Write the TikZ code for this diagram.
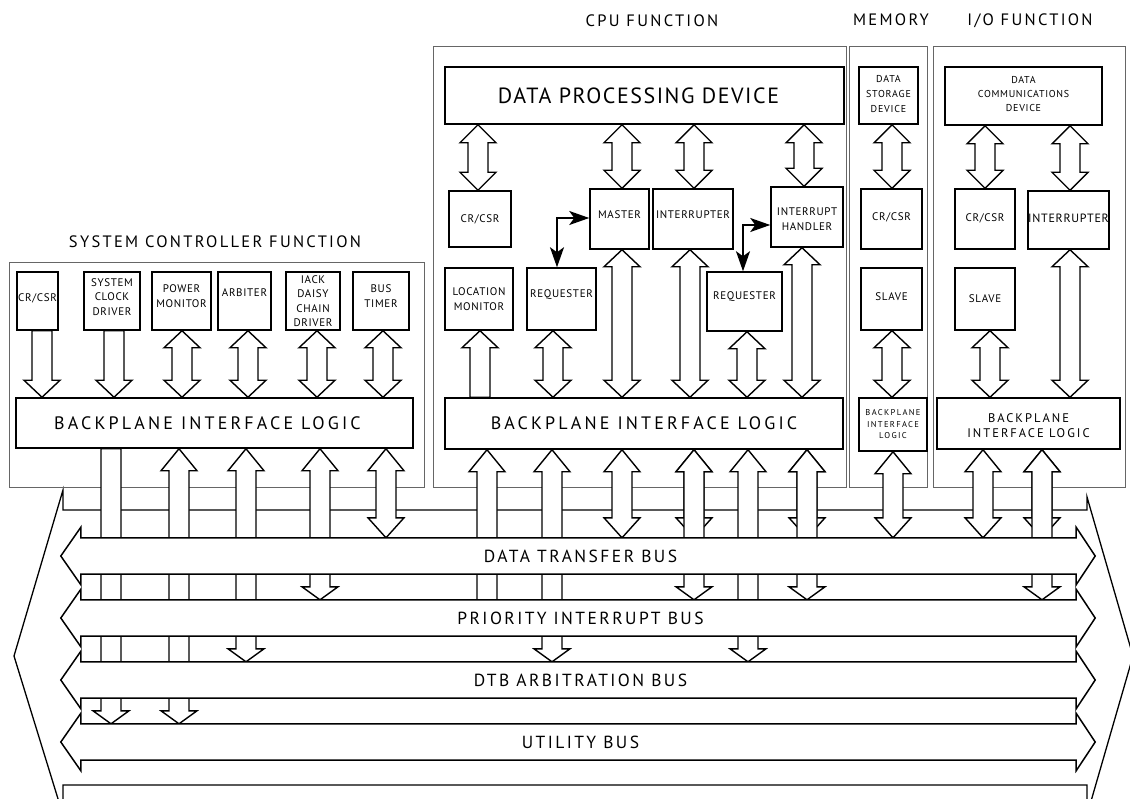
\documentclass[tikz,border=0pt]{standalone}
\usepackage{fontspec}
\setmainfont{PT Sans}
\usetikzlibrary{arrows.meta,calc}
\newcommand\ftx[3]{\fontsize{#1}{#2}\selectfont\addfontfeatures{LetterSpace=#3}}
% box: [label options]{name}{x1}{y1}{x2}{y2}{text}
\newcommand\mybox[7][]{%
  \node[box,minimum width={#5-#3},minimum height={#6-#4}] (#2) at ({(#3+#5)/2},{(#4+#6)/2}) {};
  \node[lbl,#1] (#2-t) at (#2.center) {#7};}
\newcommand\mypanel[5]{%
  \node[panel,minimum width={#4-#2},minimum height={#5-#3}] (#1) at ({(#2+#4)/2},{(#3+#5)/2}) {};}
% vertical block arrow: x, top anchor, bottom anchor, top head length, bottom head length (0 = flat)
\newcommand\BA[5]{%
  \pgfmathsetmacro\fwT{ifthenelse(#4>0,18,10)}%
  \pgfmathsetmacro\fwB{ifthenelse(#5>0,18,10)}%
  \draw[blk] let \p1=(#2), \p2=(#3) in
    (#1pt,\y1) -- ({#1pt+\fwT pt},{\y1-#4pt}) -- ({#1pt+10pt},{\y1-#4pt})
    -- ({#1pt+10pt},{\y2+#5pt}) -- ({#1pt+\fwB pt},{\y2+#5pt}) -- (#1pt,\y2)
    -- ({#1pt-\fwB pt},{\y2+#5pt}) -- ({#1pt-10pt},{\y2+#5pt})
    -- ({#1pt-10pt},{\y1-#4pt}) -- ({#1pt-\fwT pt},{\y1-#4pt}) -- cycle;}
\newcommand\busnode[2]{\path (578.5,#2) node[minimum width=995pt,minimum height=36pt,inner sep=0pt] (#1) {};}
\newcommand\busdraw[2]{%
  \draw[busline] (#1.north west) -- (#1.north east) -- ([yshift=10.5pt]#1.north east)
    -- ([xshift=19pt]#1.east) -- ([yshift=-10.5pt]#1.south east) -- (#1.south east)
    -- (#1.south west) -- ([yshift=-10.5pt]#1.south west) -- ([xshift=-20pt]#1.west)
    -- ([yshift=10.5pt]#1.north west) -- cycle;
  \node[bustext] (#1-t) at ([xshift=2pt]#1.center) {#2};}
\begin{document}
\begin{tikzpicture}[x=1pt,y=-1pt,
  panel/.style={draw=black!60,line width=0.9pt,inner sep=0pt},
  box/.style={draw,line width=1.5pt,fill=white,inner sep=0pt},
  lbl/.style={align=center,inner sep=0pt,font=\ftx{11}{14.5}{6}},
  blk/.style={draw,line width=1.4pt,fill=white,line join=miter},
  busline/.style={draw,line width=1.5pt,fill=white,line join=miter},
  bustext/.style={inner sep=0pt,font=\ftx{17.5}{20}{14}},
  title/.style={inner sep=0pt,font=\ftx{16.5}{19}{14}},
  tarrow/.style={line width=1.8pt,{Stealth[length=20pt,width=14pt,inset=5pt]}-{Stealth[length=20pt,width=14pt,inset=5pt]}}]
\useasboundingbox (0,0) rectangle (1130,798);
% outer backplane arrow
\draw[blk,line width=1.3pt] (63,490) -- (63,510) -- (1087,510) -- (1087,497) -- (1133,656)
  -- (1087,815) -- (1087,785) -- (63,785) -- (63,815) -- (14,656) -- cycle;
% panels and titles
\mypanel{scp}{9}{262}{424}{487}
\mypanel{cpup}{433}{46}{846}{487}
\mypanel{memp}{849}{46}{927}{487}
\mypanel{iop}{933}{46}{1125}{487}
\node[title] (sct) at (215,242) {SYSTEM CONTROLLER FUNCTION};
\node[title] (cput) at (652,21) {CPU FUNCTION};
\node[title] (memt) at (891,20) {MEMORY};
\node[title] (iot) at (1030,21) {I/O FUNCTION};
% system controller
\mybox[yshift=3pt]{sccr}{17}{272}{58}{330}{CR/CSR}
\mybox[yshift=4pt]{scclk}{84}{272}{140}{330}{SYSTEM\\CLOCK\\DRIVER}
\mybox[yshift=5pt]{scpm}{152}{272}{211}{330}{POWER\\MONITOR}
\mybox[yshift=8pt]{scarb}{218}{272}{271}{330}{ARBITER}
\mybox{sciack}{286}{272}{340}{330}{IACK\\DAISY\\CHAIN\\DRIVER}
\mybox[yshift=5pt]{scbt}{353}{272}{409}{330}{BUS\\TIMER}
\mybox[font=\ftx{18}{20}{17.5},xshift=-7pt]{scbil}{16}{398}{413}{448}{BACKPLANE INTERFACE LOGIC}
% cpu
\mybox[font=\ftx{22}{26}{7},xshift=-6pt]{dpd}{445}{67}{844}{124}{DATA PROCESSING DEVICE}
\mybox{ccr}{449}{191}{511}{247}{CR/CSR}
\mybox[yshift=4pt]{master}{590}{189}{649}{249}{MASTER}
\mybox[yshift=4pt]{cint}{653}{189}{733}{249}{INTERRUPTER}
\mybox[yshift=-2pt]{ih}{771}{187}{843}{247}{INTERRUPT\\HANDLER}
\mybox{lm}{445}{268}{513}{330}{LOCATION\\MONITOR}
\mybox[yshift=4pt]{req1}{527}{268}{596}{330}{REQUESTER}
\mybox[yshift=5pt]{req2}{707}{272}{782}{331}{REQUESTER}
\mybox[font=\ftx{18}{20}{17.5}]{cbil}{445}{398}{843}{449}{BACKPLANE INTERFACE LOGIC}
% memory
\mybox[yshift=1pt,font=\ftx{10}{15}{8}]{dsd}{859}{67}{918}{124}{DATA\\STORAGE\\DEVICE}
\mybox[yshift=2pt]{mcr}{861}{189}{922}{249}{CR/CSR}
\mybox[yshift=2pt]{mslave}{861}{268}{922}{330}{SLAVE}
\mybox[font=\ftx{8.5}{11.5}{16}]{mbil}{859}{398}{927}{451}{BACKPLANE\\INTERFACE\\LOGIC}
% i/o
\mybox[yshift=2pt,font=\ftx{10}{14}{7}]{dcd}{945}{67}{1102}{125}{DATA\\COMMUNICATIONS\\DEVICE}
\mybox[yshift=1pt]{iocr}{955}{189}{1015}{249}{CR/CSR}
\mybox[yshift=2pt,font=\ftx{12}{14}{6}]{ioint}{1028}{191}{1109}{249}{INTERRUPTER}
\mybox{ioslave}{955}{268}{1015}{330}{SLAVE}
\mybox[yshift=-2pt,font=\ftx{12.5}{15}{16}]{iobil}{937}{398}{1120}{449}{BACKPLANE\\INTERFACE LOGIC}
% bus placeholders
\busnode{dtb}{556}
\busnode{pi}{618}
\busnode{arb}{680}
\busnode{util}{742}
% system controller block arrows
\BA{42}{sccr.south}{scbil.north}{0}{17}
\BA{114}{scclk.south}{scbil.north}{0}{17}
\BA{182}{scpm.south}{scbil.north}{17}{17}
\BA{248}{scarb.south}{scbil.north}{17}{17}
\BA{317}{sciack.south}{scbil.north}{17}{17}
\BA{383}{scbt.south}{scbil.north}{17}{17}
\BA{111}{scbil.south}{util.north}{0}{13}
\BA{179}{scbil.south}{util.north}{22}{13}
\BA{246}{scbil.south}{arb.north}{22}{13}
\BA{320}{scbil.south}{pi.north}{22}{13}
\BA{386}{scbil.south}{dtb.north}{22}{20}
% cpu block arrows
\BA{478}{dpd.south}{ccr.north}{18}{18}
\BA{622}{dpd.south}{master.north}{18}{18}
\BA{694}{dpd.south}{cint.north}{18}{18}
\BA{804}{dpd.south}{ih.north}{18}{18}
\BA{480}{lm.south}{cbil.north}{17}{0}
\BA{553}{req1.south}{cbil.north}{17}{17}
\BA{622}{master.south}{cbil.north}{17}{17}
\BA{690}{cint.south}{cbil.north}{17}{17}
\BA{747}{req2.south}{cbil.north}{17}{17}
\BA{802}{ih.south}{cbil.north}{17}{17}
\BA{487}{cbil.south}{pi.center}{22}{0}
\BA{552}{cbil.south}{arb.north}{22}{13}
\BA{622}{cbil.south}{dtb.north}{22}{20}
\BA{694}{cbil.south}{dtb.north}{22}{20}
\BA{694}{cbil.south}{pi.north}{22}{13}
\BA{748}{cbil.south}{arb.north}{22}{13}
\BA{807}{cbil.south}{dtb.north}{22}{20}
\BA{807}{cbil.south}{pi.north}{22}{13}
% memory block arrows
\BA{892}{dsd.south}{mcr.north}{18}{18}
\BA{892}{mslave.south}{mbil.north}{17}{17}
\BA{893}{mbil.south}{dtb.north}{22}{20}
% i/o block arrows
\BA{985}{dcd.south}{iocr.north}{18}{18}
\BA{1070}{dcd.south}{ioint.north}{18}{18}
\BA{990}{ioslave.south}{iobil.north}{17}{17}
\BA{1070}{ioint.south}{iobil.north}{17}{17}
\BA{983}{iobil.south}{dtb.north}{22}{20}
\BA{1042}{iobil.south}{dtb.north}{22}{20}
\BA{1042}{iobil.south}{pi.north}{22}{13}
% master / requester links
\coordinate (k1) at (557,218);
\draw[tarrow] (k1 |- req1.north) -- (k1) -- (k1 -| master.west);
\coordinate (k2) at (743,225);
\draw[tarrow] (k2 |- req2.north) -- (k2) -- (k2 -| ih.west);
% buses
\busdraw{dtb}{DATA TRANSFER BUS}
\busdraw{pi}{PRIORITY INTERRUPT BUS}
\busdraw{arb}{DTB ARBITRATION BUS}
\busdraw{util}{UTILITY BUS}
\end{tikzpicture}
\end{document}
